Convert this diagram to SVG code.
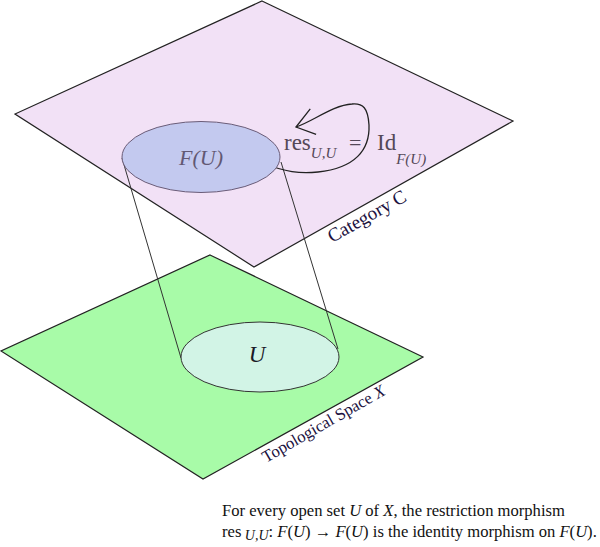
<svg xmlns="http://www.w3.org/2000/svg" width="600" height="547" viewBox="0 0 600 547">
<style>
.plane{stroke:#222;stroke-width:1.2;stroke-linejoin:miter}
.serif{font-family:"Liberation Serif","DejaVu Serif",serif}
.it{font-style:italic}
.lbl{fill:#1c1240}
.math{fill:#544858}
</style>
<defs>
<marker id="openArrow" markerWidth="26" markerHeight="32" refX="22" refY="15" orient="auto" markerUnits="userSpaceOnUse">
<path d="M5,2 L22,15 L3,28" fill="none" stroke="#222" stroke-width="1.3"/>
</marker>
</defs>
<rect width="600" height="547" fill="#fff"/>
<g id="space-x">
<polygon class="plane" points="210,255 423,357 203,479 1,351" fill="#a8fba8"/>
<text class="serif lbl" font-size="16.8" transform="translate(266,463) rotate(-29.8)">Topological Space <tspan class="it">X</tspan></text>
</g>
<g id="category-c">
<polygon class="plane" points="262,1 513,121 254,267 15,114" fill="#f2e1f6"/>
<text class="serif lbl" font-size="19" transform="translate(332,243) rotate(-29.4)">Category C</text>
</g>
<g id="connectors" fill="none" stroke="#333" stroke-width="1">
<line x1="122" y1="158" x2="181" y2="358"/>
<line x1="281" y1="162" x2="338" y2="349"/>
<path d="M263,163 C285,172 300,174 318,172 C355,168 370,150 369,125 C368,108 363,103 352,104 C333,105 312,122 296,127" stroke="#222" stroke-width="1.3" marker-end="url(#openArrow)"/>
</g>
<g id="fu">
<ellipse cx="201" cy="157" rx="79" ry="35.5" fill="#c3c9ef" stroke="#6a5c78" stroke-width="1"/>
<text class="serif it" x="201" y="165" font-size="22" text-anchor="middle" fill="#625873">F(U)</text>
</g>
<g id="u">
<ellipse cx="260" cy="357" rx="79" ry="35" fill="#d2f4e6" stroke="#333" stroke-width="1"/>
<text class="serif it" x="257" y="362" font-size="23" text-anchor="middle" fill="#1a1a28">U</text>
</g>
<g id="res-label" class="serif math">
<text x="284" y="150" font-size="23">res<tspan class="it" font-size="15" dy="8">U,U</tspan></text>
<text x="349" y="150" font-size="22">=</text>
<text x="377" y="150" font-size="23">Id<tspan class="it" font-size="15" dy="14">F(U)</tspan></text>
</g>
<g id="caption" class="serif" fill="#111" font-size="16.6">
<text x="222" y="516">For every open set <tspan class="it">U</tspan> of <tspan class="it">X</tspan>, the restriction morphism</text>
<text x="222" y="537">res<tspan class="it" font-size="14" dy="3"> U,U</tspan><tspan dy="-3">: </tspan><tspan class="it">F</tspan>(<tspan class="it">U</tspan>) → <tspan class="it">F</tspan>(<tspan class="it">U</tspan>) is the identity morphism on <tspan class="it">F</tspan>(<tspan class="it">U</tspan>).</text>
</g>
</svg>
